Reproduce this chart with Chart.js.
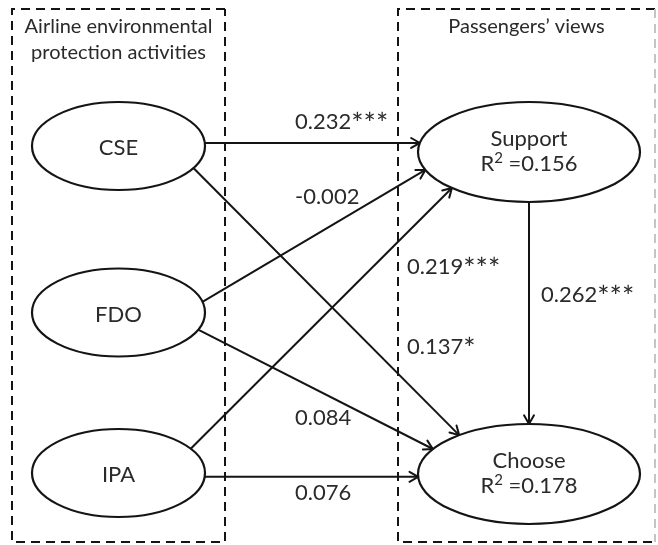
<!DOCTYPE html>
<html>
<head>
<meta charset="utf-8">
<script src="https://cdn.jsdelivr.net/npm/chart.js@4"></script>
<style>
  html, body { margin: 0; padding: 0; background: #ffffff; }
  #wrap { width: 658px; height: 545px; }
</style>
</head>
<body>
<div id="wrap"><canvas id="c" width="658" height="545"></canvas></div>
<script>
// ---- model content ----
const constructs   = ['CSE', 'FDO', 'IPA', 'Support', 'Choose'];
const rSquared     = [null, null, null, 0.156, 0.178];
const pathFrom     = ['CSE', 'CSE', 'FDO', 'FDO', 'IPA', 'IPA', 'Support'];
const pathTo       = ['Support', 'Choose', 'Support', 'Choose', 'Support', 'Choose', 'Choose'];
const pathCoef     = [0.232, 0.137, -0.002, 0.084, 0.219, 0.076, 0.262];
const pathStars    = ['***', '*', '', '', '***', '', '***'];
const groupTitles  = [['Airline environmental', 'protection activities'], ['Passengers\u2019 views']];

// ---- layout (canvas units) ----
const nodeCx = [118.5, 118.5, 118.5, 529, 529];
const nodeCy = [146, 312.5, 473, 152, 474];
const nodeRx = [86.5, 86.5, 86.5, 111, 111];
const nodeRy = [44, 44, 44, 50, 50];
// where each path leaves / enters its ellipse (degrees, y downward)
const startAngle = [-4, 30, -14, 23, -33.4, 5, 90];
const endAngle   = [190.4, 231, 159, 210, 134, 176.8, 270];
// coefficient label anchors
const labelX     = [295, 407, 295, 295, 407, 295, 541];
const labelY     = [122, 347, 197, 418, 267, 493, 295];
// group boxes: [x0, y0, x1, y1]
const boxes      = [[12, 9, 225, 542], [398, 9, 655, 542]];
const titleY     = [[27, 53], [27]];

const FONT = 'Lato, "Open Sans", sans-serif';
const INK = '#141414';
const TEXT = '#2a2a2a';

function idx(name) { return constructs.indexOf(name); }
function ellipsePoint(i, deg) {
  const a = deg * Math.PI / 180;
  return { x: nodeCx[i] + nodeRx[i] * Math.cos(a), y: nodeCy[i] + nodeRy[i] * Math.sin(a) };
}

const pathDatasets = pathFrom.map((f, k) => {
  const a = ellipsePoint(idx(f), startAngle[k]);
  const b = ellipsePoint(idx(pathTo[k]), endAngle[k]);
  return {
    label: f + ' \u2192 ' + pathTo[k],
    data: [a, b],
    showLine: true,
    borderColor: INK,
    borderWidth: 2,
    pointRadius: 0,
    fill: false,
    tension: 0
  };
});

// draws a run of text pieces; each piece may have its own size and vertical shift
function drawRun(ctx, pieces, x, y, align) {
  const widths = pieces.map(p => { ctx.font = p.size + 'px ' + FONT; return ctx.measureText(p.t).width; });
  const total = widths.reduce((a, b) => a + b, 0);
  let cx = align === 'center' ? x - total / 2 : x;
  ctx.textAlign = 'left';
  pieces.forEach((p, i) => {
    ctx.font = p.size + 'px ' + FONT;
    ctx.fillText(p.t, cx, y + (p.dy || 0));
    cx += widths[i];
  });
}

const diagramPlugin = {
  id: 'pathDiagram',
  beforeDatasetsDraw(chart) {
    const ctx = chart.ctx, xs = chart.scales.x, ys = chart.scales.y;
    ctx.save();
    ctx.lineWidth = 2;
    ctx.setLineDash([9, 6]);
    boxes.forEach((b, i) => {
      const x0 = xs.getPixelForValue(b[0]), y0 = ys.getPixelForValue(b[1]);
      const x1 = xs.getPixelForValue(b[2]), y1 = ys.getPixelForValue(b[3]);
      ctx.strokeStyle = INK;
      ctx.beginPath();
      ctx.moveTo(x1, y0); ctx.lineTo(x0, y0); ctx.lineTo(x0, y1); ctx.lineTo(x1, y1);
      if (i === 0) ctx.lineTo(x1, y0);
      ctx.stroke();
      if (i === 1) {
        // outer edge of the right frame is printed faint
        ctx.strokeStyle = '#c4c4c4';
        ctx.beginPath();
        ctx.moveTo(x1, y0); ctx.lineTo(x1, y1);
        ctx.stroke();
      }
    });
    ctx.setLineDash([]);
    ctx.restore();
  },
  afterDatasetsDraw(chart) {
    const ctx = chart.ctx, xs = chart.scales.x, ys = chart.scales.y;
    ctx.save();
    // arrowheads
    chart.data.datasets.forEach(ds => {
      const p0 = ds.data[0], p1 = ds.data[1];
      const x0 = xs.getPixelForValue(p0.x), y0 = ys.getPixelForValue(p0.y);
      const x1 = xs.getPixelForValue(p1.x), y1 = ys.getPixelForValue(p1.y);
      const ang = Math.atan2(y1 - y0, x1 - x0);
      const L = 10, h = 0.52;
      ctx.strokeStyle = INK;
      ctx.lineWidth = 2;
      ctx.lineCap = 'round';
      ctx.beginPath();
      ctx.moveTo(x1 - L * Math.cos(ang - h), y1 - L * Math.sin(ang - h));
      ctx.lineTo(x1, y1);
      ctx.lineTo(x1 - L * Math.cos(ang + h), y1 - L * Math.sin(ang + h));
      ctx.stroke();
    });
    // construct ellipses
    ctx.textBaseline = 'middle';
    constructs.forEach((name, i) => {
      const cx = xs.getPixelForValue(nodeCx[i]), cy = ys.getPixelForValue(nodeCy[i]);
      const rx = Math.abs(xs.getPixelForValue(nodeCx[i] + nodeRx[i]) - cx);
      const ry = Math.abs(ys.getPixelForValue(nodeCy[i] + nodeRy[i]) - cy);
      ctx.beginPath();
      ctx.ellipse(cx, cy, rx, ry, 0, 0, Math.PI * 2);
      ctx.fillStyle = '#ffffff';
      ctx.fill();
      ctx.strokeStyle = INK;
      ctx.lineWidth = 2.2;
      ctx.stroke();
      ctx.fillStyle = TEXT;
      if (rSquared[i] === null) {
        drawRun(ctx, [{ t: name, size: 22 }], cx, cy + 2, 'center');
      } else {
        drawRun(ctx, [{ t: name, size: 22 }], cx, cy - 13, 'center');
        drawRun(ctx, [
          { t: 'R', size: 22 },
          { t: '2', size: 15, dy: -6 },
          { t: ' =' + rSquared[i].toFixed(3), size: 22 }
        ], cx, cy + 12, 'center');
      }
    });
    // group titles
    ctx.fillStyle = TEXT;
    groupTitles.forEach((lines, i) => {
      const b = boxes[i];
      const cx = xs.getPixelForValue((b[0] + b[2]) / 2);
      lines.forEach((t, j) => drawRun(ctx, [{ t: t, size: 20 }], cx, ys.getPixelForValue(titleY[i][j]), 'center'));
    });
    // path coefficients with significance stars
    pathCoef.forEach((v, k) => {
      const pieces = [{ t: v.toFixed(3), size: 22 }];
      if (pathStars[k]) pieces.push({ t: pathStars[k], size: 29, dy: 3 });
      drawRun(ctx, pieces, xs.getPixelForValue(labelX[k]), ys.getPixelForValue(labelY[k]), 'left');
    });
    ctx.restore();
  }
};

new Chart(document.getElementById('c'), {
  type: 'scatter',
  data: { datasets: pathDatasets },
  options: {
    responsive: false,
    devicePixelRatio: 1,
    animation: false,
    layout: { padding: 0 },
    plugins: { legend: { display: false }, tooltip: { enabled: false } },
    scales: {
      x: { type: 'linear', min: 0, max: 658, display: false },
      y: { type: 'linear', min: 0, max: 545, reverse: true, display: false }
    }
  },
  plugins: [diagramPlugin]
});
</script>
</body>
</html>
